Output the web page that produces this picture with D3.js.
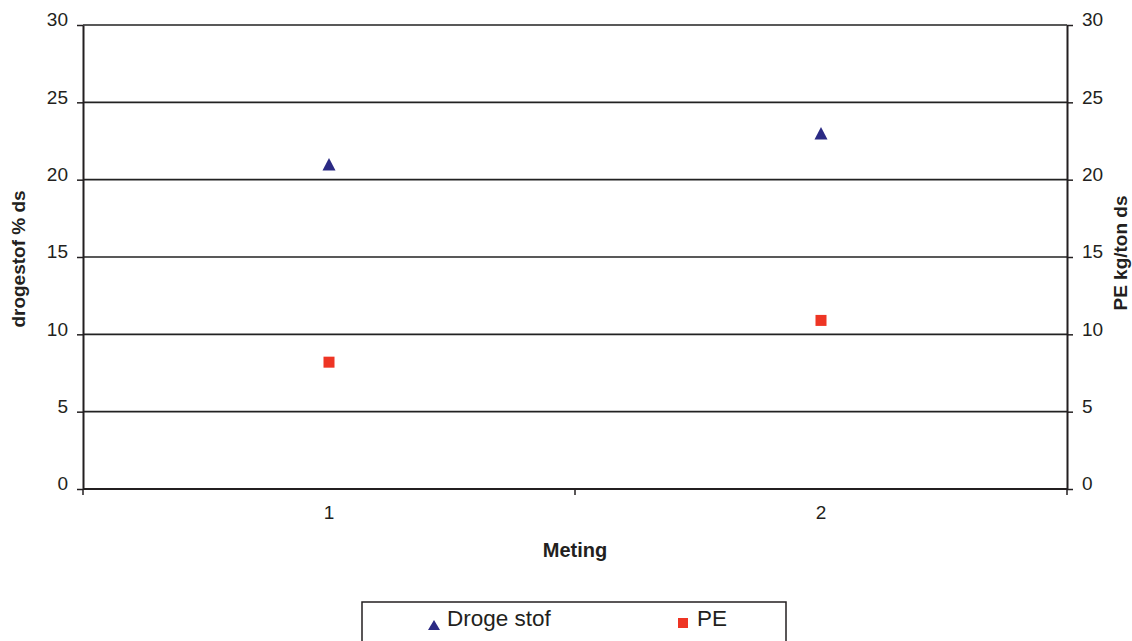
<!DOCTYPE html>
<html>
<head>
<meta charset="utf-8">
<script src="https://cdn.jsdelivr.net/npm/d3@7"></script>
<style>
  html, body { margin: 0; padding: 0; background: #fff; }
  svg { display: block; font-family: "Liberation Sans", Arial, Helvetica, sans-serif; }
</style>
</head>
<body>
<svg id="chart" width="1132" height="641"></svg>
<script>
// Meting categories and measured values
const metingen = ["1", "2"];
const drogeStof = [21, 23];        // drogestof % ds (left axis)
const pe = [8.2, 10.9];            // PE kg/ton ds (right axis)
const yTicks = [0, 5, 10, 15, 20, 25, 30];
const seriesNames = ["Droge stof", "PE"];

const ink = "#231f20";
const colTri = "#2b2a84";
const colSq = "#ee3524";

const svg = d3.select("#chart");
const plot = { left: 83, right: 1067, top: 25, bottom: 489 };

const x = d3.scaleBand().domain(metingen).range([plot.left, plot.right]);
const yL = d3.scaleLinear().domain([0, 30]).range([plot.bottom, plot.top]);
const yR = d3.scaleLinear().domain([0, 30]).range([plot.bottom, plot.top]);

// horizontal gridlines
svg.append("g").selectAll("line")
  .data(yTicks.filter(d => d > 0))
  .join("line")
  .attr("x1", plot.left).attr("x2", plot.right)
  .attr("y1", d => yL(d)).attr("y2", d => yL(d))
  .attr("stroke", "#222").attr("stroke-width", 1.7);

// left axis
const gL = svg.append("g").attr("transform", `translate(${plot.left},0)`)
  .call(d3.axisLeft(yL).tickValues(yTicks).tickSize(6).tickPadding(9).tickSizeOuter(0));
// right axis
const gR = svg.append("g").attr("transform", `translate(${plot.right},0)`)
  .call(d3.axisRight(yR).tickValues(yTicks).tickSize(6).tickPadding(9).tickSizeOuter(0));

[gL, gR].forEach(g => {
  g.select(".domain").attr("stroke", ink).attr("stroke-width", 2);
  g.selectAll(".tick line").attr("stroke", ink).attr("stroke-width", 1.5);
  g.selectAll(".tick text").attr("fill", ink).attr("font-size", 19)
    .attr("font-family", "'Liberation Sans', Arial, sans-serif").attr("dy", "0.05em");
});

// bottom axis: labels centred in each band, tick marks on band boundaries
const gX = svg.append("g").attr("transform", `translate(0,${plot.bottom})`);
gX.append("line")
  .attr("x1", plot.left).attr("x2", plot.right)
  .attr("stroke", ink).attr("stroke-width", 2.2);
const bounds = metingen.map(m => x(m)).concat([x(metingen[metingen.length - 1]) + x.bandwidth()]);
gX.selectAll("line.tk").data(bounds).join("line").attr("class", "tk")
  .attr("x1", d => d).attr("x2", d => d).attr("y1", 0).attr("y2", 6)
  .attr("stroke", ink).attr("stroke-width", 1.5);
gX.selectAll("text").data(metingen).join("text")
  .attr("x", d => x(d) + x.bandwidth() / 2).attr("y", 30)
  .attr("text-anchor", "middle").attr("fill", ink).attr("font-size", 19)
  .text(d => d);

// axis titles
svg.append("text")
  .attr("transform", `translate(25,${(plot.top + plot.bottom) / 2 + 2}) rotate(-90)`)
  .attr("text-anchor", "middle").attr("font-weight", "bold").attr("font-size", 19)
  .attr("fill", ink).text("drogestof % ds");
svg.append("text")
  .attr("transform", `translate(1127,${(plot.top + plot.bottom) / 2 - 4}) rotate(-90)`)
  .attr("text-anchor", "middle").attr("font-weight", "bold").attr("font-size", 19)
  .attr("fill", ink).text("PE kg/ton ds");
svg.append("text")
  .attr("x", (plot.left + plot.right) / 2).attr("y", 557)
  .attr("text-anchor", "middle").attr("font-weight", "bold").attr("font-size", 20)
  .attr("fill", ink).text("Meting");

// marker shapes centred on their bounding box
const triPath = (w, h) => `M0,${-h / 2}L${w / 2},${h / 2}L${-w / 2},${h / 2}Z`;

svg.append("g").selectAll("path")
  .data(metingen.map((m, i) => ({ m, v: drogeStof[i] })))
  .join("path")
  .attr("transform", d => `translate(${x(d.m) + x.bandwidth() / 2},${yL(d.v)})`)
  .attr("d", triPath(13, 12.5))
  .attr("fill", colTri);

svg.append("g").selectAll("rect")
  .data(metingen.map((m, i) => ({ m, v: pe[i] })))
  .join("rect")
  .attr("x", d => x(d.m) + x.bandwidth() / 2 - 5.5)
  .attr("y", d => yR(d.v) - 5.5)
  .attr("width", 11).attr("height", 11)
  .attr("fill", colSq);

// legend
const lg = svg.append("g");
lg.append("rect").attr("x", 362).attr("y", 602).attr("width", 424).attr("height", 60)
  .attr("fill", "none").attr("stroke", ink).attr("stroke-width", 1.5);
lg.append("path").attr("transform", "translate(434,625)").attr("d", triPath(12, 10)).attr("fill", colTri);
lg.append("text").attr("x", 447).attr("y", 626).attr("font-size", 22.5).attr("fill", ink).text(seriesNames[0]);
lg.append("rect").attr("x", 678).attr("y", 618).attr("width", 10).attr("height", 10).attr("fill", colSq);
lg.append("text").attr("x", 697).attr("y", 626).attr("font-size", 22.5).attr("fill", ink).text(seriesNames[1]);
</script>
</body>
</html>
